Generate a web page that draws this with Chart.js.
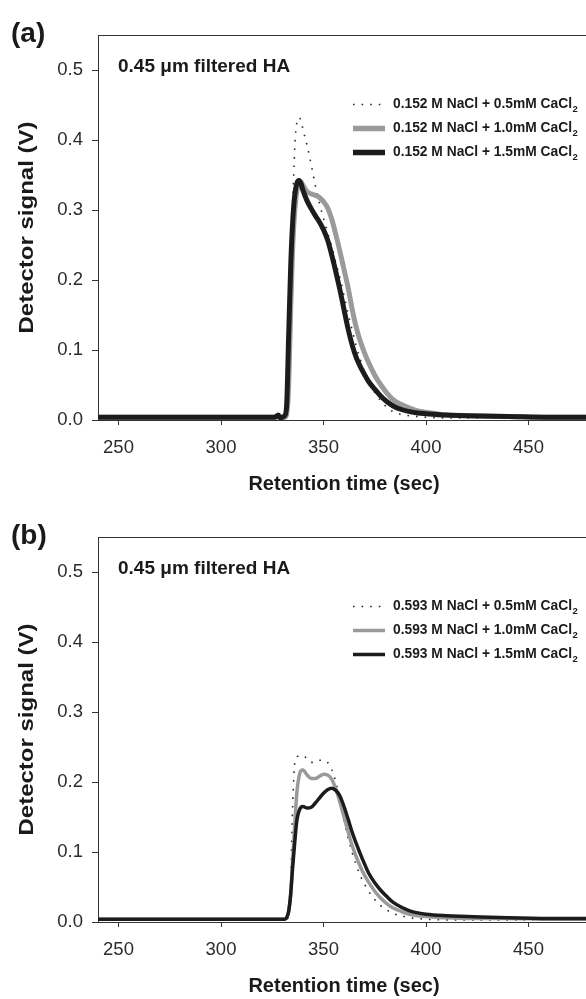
<!DOCTYPE html>
<html>
<head>
<meta charset="utf-8">
<script src="https://cdn.jsdelivr.net/npm/chart.js@4.4.1/dist/chart.umd.min.js"></script>
<style>
  html, body { margin: 0; padding: 0; background: #fff; width: 586px; height: 999px; overflow: hidden; }
  .panel { position: absolute; left: 0; }
  #panelA { top: 0; }
  #panelB { top: 502px; }
</style>
</head>
<body>
<canvas id="panelA" class="panel" width="590" height="500"></canvas>
<canvas id="panelB" class="panel" width="590" height="500"></canvas>
<script>
// retention time grid (sec), shared by every trace
const retentionTime = [240, 300, 326, 328, 329, 330, 331,
  332, 333, 334, 335, 336, 337, 338, 339, 340,
  342, 344, 346, 348, 350, 352, 354, 356, 358, 360, 362, 364, 366, 368, 370, 372,
  375, 378, 381, 384, 388, 392, 396, 400, 410, 420, 440, 460, 480];

// (a) 0.152 M NaCl
const labelsA = ['0.152 M NaCl + 0.5mM CaCl₂', '0.152 M NaCl + 1.0mM CaCl₂', '0.152 M NaCl + 1.5mM CaCl₂'];
const signalA_05 = [0.003, 0.003, 0.003, 0.003, 0.003, 0.003, 0.003,
  0.005, 0.03, 0.13, 0.3, 0.39, 0.425, 0.432, 0.428, 0.415,
  0.392, 0.365, 0.335, 0.31, 0.288, 0.268, 0.248, 0.225, 0.203, 0.178, 0.152, 0.128, 0.105, 0.086, 0.069, 0.055,
  0.039, 0.027, 0.018, 0.012, 0.008, 0.006, 0.005, 0.004, 0.003, 0.003, 0.003, 0.003, 0.003];
const signalA_10 = [0.004, 0.004, 0.004, 0.004, 0.004, 0.004, 0.004,
  0.008, 0.05, 0.16, 0.25, 0.3, 0.327, 0.338, 0.34, 0.335,
  0.326, 0.323, 0.321, 0.318, 0.312, 0.303, 0.287, 0.265, 0.241, 0.215, 0.189, 0.158, 0.132, 0.112, 0.096, 0.082,
  0.064, 0.05, 0.038, 0.029, 0.022, 0.017, 0.013, 0.011, 0.007, 0.006, 0.005, 0.004, 0.004];
const signalA_15 = [0.004, 0.004, 0.004, 0.007, 0.003, 0.004, 0.006,
  0.02, 0.12, 0.22, 0.285, 0.322, 0.338, 0.342, 0.338, 0.328,
  0.313, 0.302, 0.292, 0.283, 0.272, 0.257, 0.236, 0.212, 0.186, 0.158, 0.13, 0.107, 0.089, 0.076, 0.065, 0.055,
  0.044, 0.034, 0.026, 0.02, 0.015, 0.012, 0.01, 0.009, 0.007, 0.006, 0.005, 0.004, 0.004];

// (b) 0.593 M NaCl
const labelsB = ['0.593 M NaCl + 0.5mM CaCl₂', '0.593 M NaCl + 1.0mM CaCl₂', '0.593 M NaCl + 1.5mM CaCl₂'];
const signalB_05 = [0.003, 0.003, 0.003, 0.003, 0.003, 0.003, 0.003,
  0.004, 0.01, 0.06, 0.17, 0.228, 0.236, 0.237, 0.238, 0.238,
  0.233, 0.228, 0.228, 0.231, 0.231, 0.228, 0.218, 0.2, 0.172, 0.145, 0.12, 0.099, 0.081, 0.066, 0.054, 0.044,
  0.032, 0.023, 0.017, 0.012, 0.009, 0.006, 0.005, 0.004, 0.003, 0.003, 0.003, 0.003, 0.003];
const signalB_10 = [0.004, 0.004, 0.004, 0.004, 0.004, 0.004, 0.004,
  0.006, 0.015, 0.04, 0.09, 0.14, 0.185, 0.207, 0.216, 0.217,
  0.21, 0.205, 0.205, 0.208, 0.211, 0.21, 0.204, 0.19, 0.171, 0.15, 0.129, 0.109, 0.093, 0.079, 0.067, 0.057,
  0.044, 0.034, 0.026, 0.02, 0.015, 0.011, 0.009, 0.008, 0.006, 0.005, 0.005, 0.004, 0.004];
const signalB_15 = [0.004, 0.004, 0.004, 0.004, 0.004, 0.004, 0.004,
  0.006, 0.015, 0.04, 0.08, 0.115, 0.145, 0.158, 0.164, 0.165,
  0.163, 0.164, 0.17, 0.177, 0.184, 0.189, 0.191, 0.188, 0.18, 0.165, 0.147, 0.128, 0.112, 0.097, 0.083, 0.07,
  0.056, 0.045, 0.036, 0.028, 0.021, 0.016, 0.013, 0.011, 0.009, 0.008, 0.006, 0.005, 0.005];

const yTicks = [0, 0.1, 0.2, 0.3, 0.4, 0.5];
const xTicks = [250, 300, 350, 400, 450];
const caption = '0.45 μm filtered HA';
const yTitle = 'Detector signal (V)';

const FONT = '"Liberation Sans", Arial, Helvetica, sans-serif';

// box top edge, panel tag, caption, y title and the line legend
const panelDecor = {
  id: 'panelDecor',
  afterDraw(chart, args, opts) {
    const { ctx, chartArea: area } = chart;
    ctx.save();
    ctx.strokeStyle = '#333';
    ctx.lineWidth = 1;
    ctx.beginPath();
    ctx.moveTo(area.left, area.top + 0.5);
    ctx.lineTo(area.right, area.top + 0.5);
    ctx.lineTo(area.right, area.bottom);
    ctx.stroke();

    ctx.fillStyle = '#1a1a1a';
    ctx.textBaseline = 'alphabetic';
    ctx.font = 'bold 28px ' + FONT;
    ctx.fillText(opts.tag, 11, 42);

    ctx.font = 'bold 19px ' + FONT;
    ctx.fillText(caption, area.left + 20, area.top + 37);

    // y title, a little stretched along its length
    ctx.save();
    ctx.translate(27, (area.top + area.bottom) / 2);
    ctx.rotate(-Math.PI / 2);
    ctx.scale(1.2, 1);
    ctx.font = 'bold 20px ' + FONT;
    ctx.textAlign = 'center';
    ctx.textBaseline = 'middle';
    ctx.fillText(yTitle, 0, 0);
    ctx.restore();

    chart.data.datasets.forEach((ds, i) => {
      const base = area.top + 73 + i * 24;
      ctx.save();
      ctx.strokeStyle = ds.borderColor;
      ctx.lineWidth = ds.borderDash.length ? ds.borderWidth : opts.legendWidth;
      ctx.setLineDash(ds.borderDash);
      ctx.beginPath();
      ctx.moveTo(353, base - 3.5);
      ctx.lineTo(385, base - 3.5);
      ctx.stroke();
      ctx.restore();

      const [main] = ds.label.split('₂');
      ctx.font = 'bold 13.8px ' + FONT;
      ctx.fillText(main, 393, base);
      const w = ctx.measureText(main).width;
      ctx.font = 'bold 9.5px ' + FONT;
      ctx.fillText('2', 393 + w + 0.5, base + 3.5);
    });
    ctx.restore();
  }
};

function makeDatasets(labels, series, width) {
  const styles = [
    { borderColor: '#2a2a2a', borderWidth: 1.6, borderDash: [1.6, 7], order: 2 },
    { borderColor: '#9a9a9a', borderWidth: width, borderDash: [], order: 1 },
    { borderColor: '#1c1c1c', borderWidth: width, borderDash: [], order: 0 },
  ];
  return series.map((values, i) => Object.assign({
    label: labels[i],
    data: retentionTime.map((t, k) => ({ x: t, y: values[k] })),
    pointRadius: 0,
    cubicInterpolationMode: 'monotone',
    fill: false,
  }, styles[i]));
}

function makePanel(id, tag, labels, series, width, legendWidth) {
  new Chart(document.getElementById(id).getContext('2d'), {
    type: 'line',
    data: { datasets: makeDatasets(labels, series, width) },
    options: {
      responsive: false,
      animation: false,
      devicePixelRatio: 1,
      layout: { padding: { top: 35, right: 0, bottom: 0, left: 0 } },
      plugins: {
        legend: { display: false },
        tooltip: { enabled: false },
        panelDecor: { tag: tag, legendWidth: legendWidth },
      },
      scales: {
        x: {
          type: 'linear',
          min: 240,
          max: 480,
          afterFit: s => { s.height = 80; },
          afterBuildTicks: s => { s.ticks = xTicks.map(v => ({ value: v })); },
          ticks: { padding: 12, color: '#2b2b2b', maxRotation: 0, font: { family: FONT, size: 18.5 } },
          grid: { drawOnChartArea: false, tickLength: 5, color: '#333' },
          border: { color: '#333', width: 1 },
          title: {
            display: true,
            text: 'Retention time (sec)',
            color: '#1a1a1a',
            font: { family: FONT, size: 20, weight: 'bold' },
            padding: { bottom: 4 },
          },
        },
        y: {
          min: 0,
          max: 0.55,
          afterFit: s => { s.width = 98; },
          afterBuildTicks: s => { s.ticks = yTicks.map(v => ({ value: v })); },
          ticks: { padding: 9, color: '#2b2b2b', callback: v => v.toFixed(1), font: { family: FONT, size: 18.5 } },
          grid: { drawOnChartArea: false, tickLength: 6, color: '#333' },
          border: { color: '#333', width: 1 },
        },
      },
    },
    plugins: [panelDecor],
  });
}

makePanel('panelA', '(a)', labelsA, [signalA_05, signalA_10, signalA_15], 5, 5.5);
makePanel('panelB', '(b)', labelsB, [signalB_05, signalB_10, signalB_15], 3.5, 3.5);
</script>
</body>
</html>
